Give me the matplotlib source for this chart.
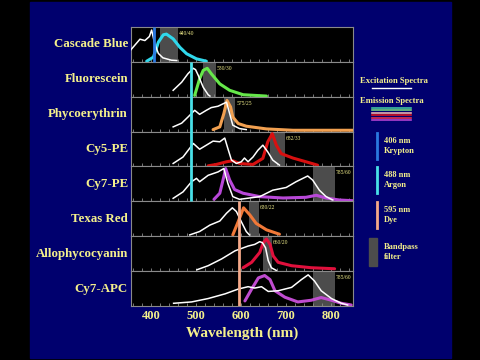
import matplotlib
matplotlib.use("Agg")
import matplotlib.pyplot as plt
from matplotlib.lines import Line2D
from matplotlib.patches import Rectangle
from matplotlib.ticker import MultipleLocator

# ---- data (wavelength in nm, relative intensity 0..1) ----
dyes = ["Cascade Blue", "Fluorescein", "Phycoerythrin", "Cy5-PE",
        "Cy7-PE", "Texas Red", "Allophycocyanin", "Cy7-APC"]

ex_wl = [
    [353, 375, 386, 396, 401, 408, 416, 426, 434, 445, 457],
    [449, 468, 482, 494, 499, 505, 516, 527, 531],
    [449, 468, 482, 497, 508, 523, 534, 549, 560, 568, 575, 582, 597, 612],
    [449, 471, 494, 508, 523, 538, 553, 564, 571, 579, 590, 601, 608, 616,
     627, 638, 649, 660, 671, 686],
    [449, 471, 490, 501, 508, 527, 549, 562, 571, 582, 597, 642, 671, 701,
     723, 749, 760, 775, 790, 805],
    [486, 508, 531, 553, 568, 581, 590, 601, 612, 619],
    [502, 527, 557, 587, 616, 631, 642, 648, 655, 661, 668, 679],
    [450, 490, 527, 565, 594, 616, 631, 646, 661, 683, 713, 735, 750, 764,
     779, 802, 824, 838],
]
ex_val = [
    [0.33, 0.67, 0.63, 0.75, 0.94, 0.53, 0.25, 0.12, 0.09, 0.05, 0.04],
    [0.19, 0.43, 0.68, 0.84, 0.80, 0.63, 0.28, 0.06, 0.02],
    [0.14, 0.25, 0.43, 0.63, 0.51, 0.63, 0.71, 0.75, 0.82, 0.87, 0.53,
     0.19, 0.09, 0.06],
    [0.09, 0.28, 0.68, 0.51, 0.63, 0.75, 0.73, 0.84, 0.53, 0.19, 0.09,
     0.14, 0.25, 0.14, 0.28, 0.48, 0.63, 0.43, 0.19, 0.04],
    [0.09, 0.28, 0.58, 0.68, 0.58, 0.77, 0.87, 0.97, 0.53, 0.14, 0.06,
     0.14, 0.33, 0.41, 0.58, 0.75, 0.63, 0.33, 0.14, 0.04],
    [0.04, 0.14, 0.33, 0.45, 0.68, 0.84, 0.73, 0.43, 0.14, 0.04],
    [0.04, 0.16, 0.36, 0.60, 0.74, 0.79, 0.87, 0.84, 0.69, 0.31, 0.10, 0.02],
    [0.08, 0.12, 0.22, 0.36, 0.50, 0.57, 0.53, 0.57, 0.43, 0.45, 0.55,
     0.78, 0.92, 0.74, 0.45, 0.22, 0.08, 0.03],
]

em_wl = [
    [390, 405, 416, 427, 434, 449, 464, 479, 501, 523],
    [497, 508, 516, 525, 534, 553, 575, 605, 657],
    [538, 553, 562, 569, 577, 582, 594, 612, 657, 716, 850],
    [527, 545, 568, 582, 597, 627, 649, 660, 670, 679, 690, 716, 745, 771],
    [540, 553, 562, 566, 575, 586, 605, 642, 694, 745, 768, 790, 820, 850],
    [582, 594, 606, 620, 634, 657, 686],
    [605, 624, 642, 650, 657, 665, 672, 683, 713, 757, 809],
    [609, 624, 639, 653, 665, 676, 698, 727, 757, 779, 802, 824, 846],
]
em_val = [
    [0.02, 0.14, 0.58, 0.80, 0.82, 0.68, 0.43, 0.24, 0.09, 0.02],
    [0.04, 0.53, 0.78, 0.84, 0.68, 0.38, 0.19, 0.06, 0.02],
    [0.06, 0.14, 0.53, 0.92, 0.73, 0.43, 0.24, 0.16, 0.08, 0.04, 0.04],
    [0.02, 0.06, 0.14, 0.17, 0.09, 0.06, 0.24, 0.73, 0.97, 0.63, 0.38,
     0.25, 0.14, 0.04],
    [0.06, 0.24, 0.73, 0.97, 0.63, 0.35, 0.24, 0.14, 0.10, 0.12, 0.18,
     0.10, 0.04, 0.02],
    [0.04, 0.43, 0.84, 0.63, 0.38, 0.19, 0.06],
    [0.10, 0.26, 0.55, 0.84, 0.95, 0.79, 0.45, 0.26, 0.16, 0.10, 0.07],
    [0.15, 0.50, 0.83, 0.90, 0.78, 0.45, 0.26, 0.12, 0.17, 0.25, 0.17,
     0.08, 0.03],
]
em_colors = ["#30d8ec", "#66e84a", "#f2a050", "#d81010",
             "#b848d8", "#f07838", "#e0103c", "#c04cd0"]

# bandpass filters: center / width
bp_center = [440, 530, 575, 682, 785, 630, 660, 785]
bp_width = [40, 30, 25, 33, 50, 22, 20, 50]
bp_text = ["440/40", "530/30", "575/25", "682/33", "785/60", "630/22",
           "660/20", "785/60"]

# lasers: wavelength, first and last panel lit
laser_wl = [406, 488, 595]
laser_panels = [(0, 0), (1, 4), (5, 7)]
laser_colors = ["#2a78e0", "#48e0e8", "#f4a888"]
laser_names = ["406 nm\nKrypton", "488 nm\nArgon", "595 nm\nDye"]

xticks = [400, 500, 600, 700, 800]

yellow = "#f4f08c"
navy = "#00006e"
grey = "#8a8a8a"
serif = ["Liberation Serif", "DejaVu Serif"]

fig = plt.figure(figsize=(4.8, 3.6), dpi=100, facecolor="black")
fig.add_artist(Rectangle((30 / 480, 2 / 360), 421 / 480, 356 / 360,
                         transform=fig.transFigure, color=navy, zorder=0))

x0, x1 = 131 / 480, 353 / 480
ytop, ybot = 1 - 27 / 360, 1 - 306 / 360
ph = (ytop - ybot) / len(dyes)

axes = []
for i, name in enumerate(dyes):
    ax = fig.add_axes([x0, ytop - (i + 1) * ph, x1 - x0, ph])
    ax.set_facecolor("black")
    ax.set_xlim(355, 850)
    ax.set_ylim(0, 1.03)
    for s in ax.spines.values():
        s.set_color(grey)
        s.set_linewidth(0.8)
    ax.set_yticks([])
    ax.xaxis.set_major_locator(MultipleLocator(100))
    ax.xaxis.set_minor_locator(MultipleLocator(20))
    ax.tick_params(axis="x", which="both", direction="in", colors=grey,
                   length=2, width=0.6, labelbottom=False)
    lo = bp_center[i] - bp_width[i] / 2
    ax.axvspan(lo, lo + bp_width[i], color="#4c4c4c", lw=0, zorder=1)
    ax.text(lo + bp_width[i] + 2, 0.84, bp_text[i], color=yellow,
            fontsize=4, family=serif, va="center", ha="left", zorder=5)
    ax.plot(em_wl[i], em_val[i], color=em_colors[i], lw=2.2,
            solid_joinstyle="round", solid_capstyle="round", zorder=3)
    ax.plot(ex_wl[i], ex_val[i], color="white", lw=1.1,
            solid_joinstyle="round", zorder=4)
    fig.text(x0 - 3 / 480, ytop - (i + 0.5) * ph, name, color=yellow,
             fontsize=9.3, family=serif, weight="bold", ha="right",
             va="center")
    axes.append(ax)

bottom = axes[-1]
bottom.set_xticks(xticks)
bottom.tick_params(axis="x", which="major", labelbottom=True,
                   labelcolor=yellow, labelsize=9, pad=3)
for lab in bottom.get_xticklabels():
    lab.set_family(serif)
    lab.set_fontweight("bold")
bottom.set_xlabel("Wavelength (nm)", color=yellow, fontsize=11,
                  family=serif, weight="bold", labelpad=3)

# laser lines across panels, drawn on an overlay sharing the x scale
over = fig.add_axes([x0, ybot, x1 - x0, ytop - ybot], zorder=10)
over.set_xlim(355, 850)
over.set_ylim(0, len(dyes))
over.axis("off")
n = len(dyes)
for wl, (a, b), c in zip(laser_wl, laser_panels, laser_colors):
    over.vlines(wl, n - 1 - b, n - a, color=c, lw=2)

# legend on the right
def fx(px):
    return px / 480

def fy(py):
    return 1 - py / 360

fig.text(fx(360), fy(81), "Excitation Spectra", color=yellow, fontsize=6.2,
         family=serif, weight="bold", va="center")
fig.add_artist(Line2D([fx(372), fx(411)], [fy(88), fy(88)], color="white",
                      lw=1, transform=fig.transFigure))
fig.text(fx(360), fy(101), "Emission Spectra", color=yellow, fontsize=6.2,
         family=serif, weight="bold", va="center")
legend_em = ["#40c0a0", "#70d080", "#e8b0b0", "#d01020", "#e03050",
             "#b040d0"]
for k, c in enumerate(legend_em):
    yy = fy(108 + k * 2.4)
    fig.add_artist(Line2D([fx(372), fx(411)], [yy, yy], color=c, lw=1.2,
                          transform=fig.transFigure))

bar_top = [133, 167, 202]
for top, c, txt in zip(bar_top, laser_colors, laser_names):
    fig.add_artist(Line2D([fx(377), fx(377)], [fy(top), fy(top + 26)],
                          color=c, lw=2, transform=fig.transFigure))
    fig.text(fx(384), fy(top + 13), txt, color=yellow, fontsize=6,
             family=serif, weight="bold", va="center", linespacing=1.3)
fig.add_artist(Rectangle((fx(369), fy(266)), 8 / 480, 28 / 360,
                         transform=fig.transFigure, color="#4c4c4c"))
fig.text(fx(384), fy(252), "Bandpass\nfilter", color=yellow, fontsize=6,
         family=serif, weight="bold", va="center", linespacing=1.3)

fig.savefig("out.png", dpi=100, facecolor="black")
